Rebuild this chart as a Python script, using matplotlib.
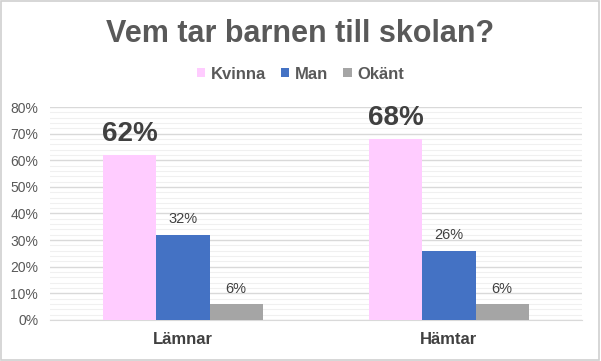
import matplotlib
matplotlib.use("Agg")
import matplotlib.pyplot as plt
import numpy as np
from matplotlib.ticker import MultipleLocator, FuncFormatter
from matplotlib.patches import Rectangle

plt.rcParams['font.family'] = ['Liberation Sans', 'DejaVu Sans']

categories = ["Lämnar", "Hämtar"]
series_names = ["Kvinna", "Man", "Okänt"]
kvinna = [62, 68]
man = [32, 26]
okant = [6, 6]
colors = ["#FFCCFF", "#4472C4", "#A5A5A5"]

fig = plt.figure(figsize=(6.01, 3.61), dpi=100)
fig.patch.set_facecolor("white")
fig.add_artist(Rectangle((0.002, 0.003), 0.995, 0.993, transform=fig.transFigure,
                         fill=False, edgecolor="#D0D0D0", linewidth=1.2))

ax = fig.add_axes([0.0832, 0.1136, 0.885, 0.590])
x = np.arange(len(categories))
w = 0.2
data = [kvinna, man, okant]
for i, (vals, c, name) in enumerate(zip(data, colors, series_names)):
    bars = ax.bar(x + (i - 1) * w, vals, width=w, color=c, label=name, zorder=3)
    for b, v in zip(bars, vals):
        cx = b.get_x() + b.get_width() / 2
        if i == 0:
            ax.annotate(f"{v}%", (cx, v), xytext=(0, 10), textcoords="offset points",
                        ha="center", va="baseline", fontsize=20, fontweight="bold",
                        color="#404040")
        else:
            ax.annotate(f"{v}%", (cx, v), xytext=(0, 8.2), textcoords="offset points",
                        ha="center", va="baseline", fontsize=10.5, color="#404040")

ax.set_xlim(-0.5, 1.5)
ax.set_ylim(0, 80)
ax.yaxis.set_major_locator(MultipleLocator(10))
ax.yaxis.set_minor_locator(MultipleLocator(2))
ax.yaxis.set_major_formatter(FuncFormatter(lambda v, p: f"{int(v)}%"))
ax.grid(axis="y", which="major", color="#D9D9D9", linewidth=1.0, zorder=0)
ax.grid(axis="y", which="minor", color="#F0F0F0", linewidth=0.8, zorder=0)
ax.set_xticks(x)
ax.set_xticklabels(categories, fontsize=12, fontweight="bold", color="#404040")
ax.tick_params(axis="y", which="both", length=0, labelsize=10, labelcolor="#595959", pad=8.5)
ax.tick_params(axis="x", length=0, pad=9)
for s in ["top", "right", "left"]:
    ax.spines[s].set_visible(False)
ax.spines["bottom"].set_color("#D9D9D9")
ax.set_axisbelow(True)

fig.text(0.5, 1 - 42 / 361, "Vem tar barnen till skolan?", ha="center", va="baseline",
         fontsize=22, fontweight="bold", color="#595959")
leg = fig.legend(loc="center", bbox_to_anchor=(0.5, 0.795), ncol=3, frameon=False,
                 fontsize=12, handlelength=0.5, handleheight=0.5, handletextpad=0.35,
                 columnspacing=0.9)
for t in leg.get_texts():
    t.set_color("#595959")
    t.set_fontweight("bold")

fig.savefig("out.png", dpi=100)
